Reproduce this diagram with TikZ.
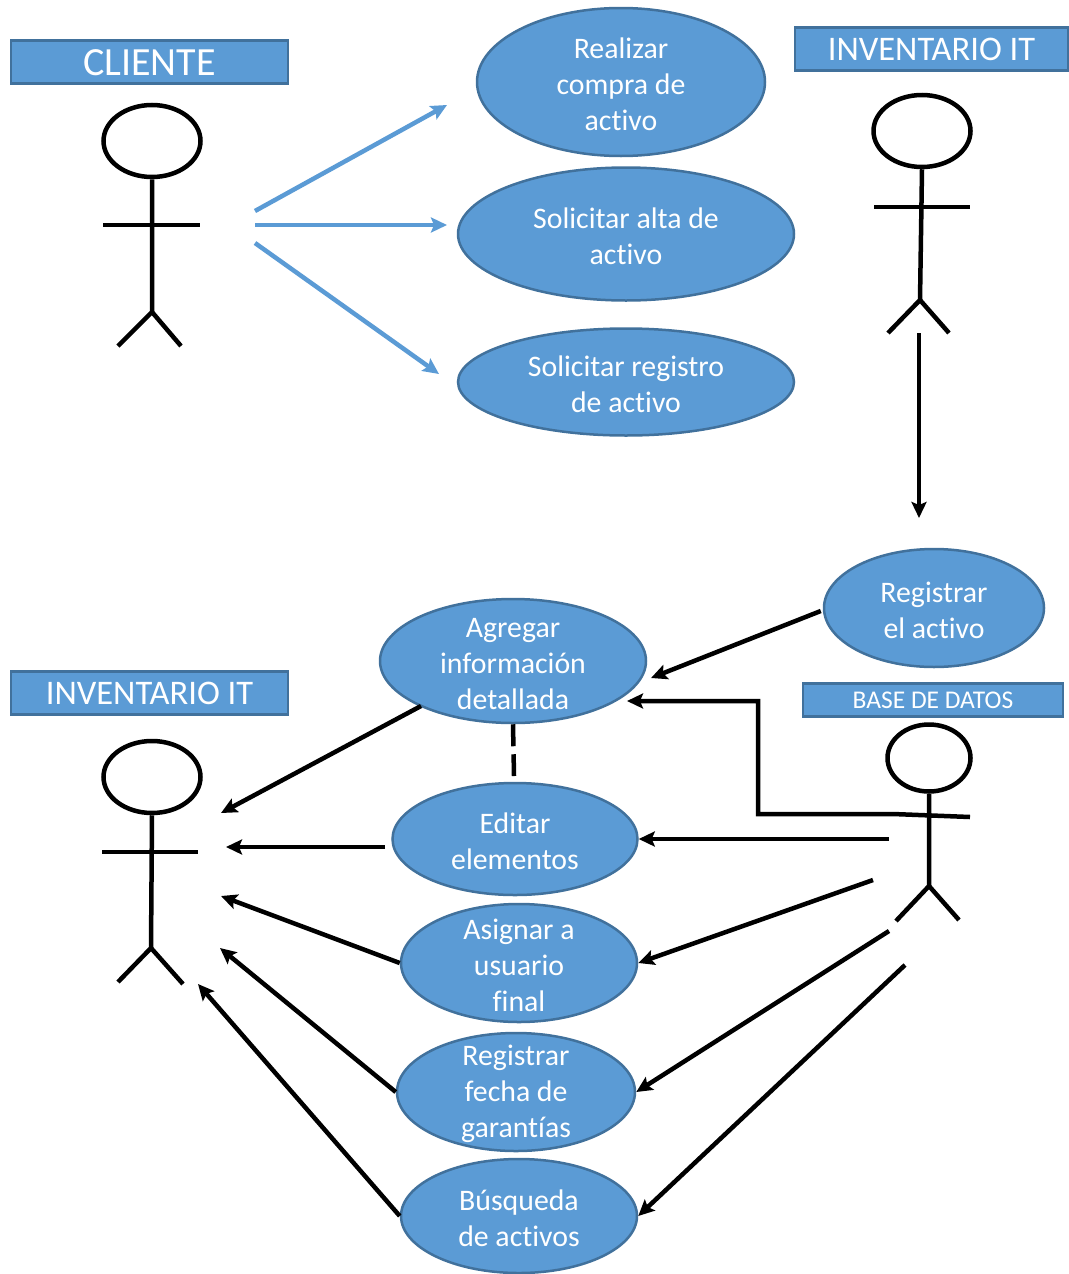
\documentclass[tikz,border=0pt]{standalone}
\usepackage{fontspec}
\setmainfont[Ligatures=NoCommon]{Carlito}
\usetikzlibrary{arrows.meta,shapes.geometric}
\definecolor{azul}{RGB}{91,155,213}
\definecolor{borde}{RGB}{65,113,156}
\newcommand{\bajar}{\\[-11pt]}
\tikzset{
    caso/.style={ellipse, draw=borde, line width=2.5pt, fill=azul, text=white, align=center, inner sep=-20pt, font=\fontsize{29.8}{36}\selectfont},
    titulo/.style={rectangle, draw=borde, line width=2.5pt, fill=azul, text=white, inner sep=0pt},
    cabeza/.style={ellipse, draw=black, line width=4.5pt, fill=white},
    palo/.style={draw=black, line width=4.5pt},
    flecha/.style={draw=black, line width=4.5pt, -{Stealth[length=16pt,width=15pt,inset=3pt]}},
    flechaazul/.style={draw=azul, line width=4.5pt, -{Stealth[length=16pt,width=15pt,inset=3pt]}},
}
\begin{document}
\begin{tikzpicture}[x=1pt,y=-1pt]

    \useasboundingbox (0,0) rectangle (1068,1274);

    % titulos
    \node (cliente) [titulo, minimum width=277pt, minimum height=43pt, text height=27.8pt, font=\fontsize{40}{40}\selectfont] at (149.5,62) {CLIENTE};
    \node (inventarioA) [titulo, minimum width=273pt, minimum height=43pt, text height=24pt, font=\fontsize{34.5}{40}\selectfont] at (931.5,49) {INVENTARIO IT};
    \node (inventarioB) [titulo, minimum width=277pt, minimum height=43pt, text height=24pt, font=\fontsize{34.5}{40}\selectfont] at (149.5,693) {INVENTARIO IT};
    \node (base) [titulo, minimum width=260pt, minimum height=33pt, font=\fontsize{25.5}{30}\selectfont] at (933,700) {BASE DE DATOS};

    % casos de uso
    \node (compra) [caso, minimum width=288pt, minimum height=148pt] at (621,82) {\bajar Realizar\\compra de\\activo};
    \node (alta) [caso, minimum width=336pt, minimum height=133pt] at (626,234) {\bajar Solicitar alta de\\activo};
    \node (registro) [caso, minimum width=336pt, minimum height=107pt] at (626,382) {\bajar Solicitar registro\\de activo};
    \node (registrar) [caso, minimum width=220pt, minimum height=118pt] at (934,608) {\bajar Registrar\\el activo};
    \node (agregar) [caso, minimum width=266pt, minimum height=124pt] at (513,661) {\bajar Agregar\\información\\detallada};
    \node (editar) [caso, minimum width=245pt, minimum height=112pt] at (515,839) {\bajar Editar\\elementos};
    \node (asignar) [caso, minimum width=236pt, minimum height=118pt] at (519,963) {\bajar Asignar a\\usuario\\final};
    \node (fecha) [caso, minimum width=238pt, minimum height=118pt] at (516,1092) {\bajar Registrar\\fecha de\\garantías};
    \node (busqueda) [caso, minimum width=236pt, minimum height=114pt] at (519,1216) {\bajar Búsqueda\\de activos};

    % monigote cliente
    \node (cabezaA) [cabeza, minimum width=97pt, minimum height=72pt] at (152,141) {};
    \draw [palo] (cabezaA.south) -- (152,312) -- (118,346);
    \draw [palo] (152,312) -- (181,346);
    \draw [palo] (103,225) -- (200,225);

    % monigote inventario arriba
    \node (cabezaB) [cabeza, minimum width=97pt, minimum height=72pt] at (922,131) {};
    \draw [palo] (cabezaB.south) -- (920,300) -- (888,333);
    \draw [palo] (920,300) -- (949,333);
    \draw [palo] (874,207) -- (970,207);

    % monigote inventario abajo
    \node (cabezaC) [cabeza, minimum width=97pt, minimum height=72pt] at (152,777) {};
    \draw [palo] (cabezaC.south) -- (151,948) -- (118,982);
    \draw [palo] (151,948) -- (183,984);
    \draw [palo] (102,852) -- (198,852);

    % monigote base de datos
    \node (cabezaD) [cabeza, minimum width=83pt, minimum height=67pt] at (929,758) {};
    \draw [palo] (cabezaD.south) -- (929,886) -- (896,921);
    \draw [palo] (929,886) -- (959,920);

    % flechas cliente
    \coordinate (salidaA) at (255,211);
    \coordinate (salidaB) at (255,225);
    \coordinate (salidaC) at (255,243);
    \draw [flechaazul] (salidaA) -- (447,105);
    \draw [flechaazul] (salidaB) -- (447,225);
    \draw [flechaazul] (salidaC) -- (439,374);

    % flechas inventario
    \coordinate (bajadaA) at (919,333);
    \coordinate (bajadaB) at (919,518);
    \draw [flecha] (bajadaA) -- (bajadaB);
    \draw [flecha] (registrar.west) ++(-2,3) -- (651,678);
    \draw [palo, dash pattern=on 22pt off 8pt] (agregar.south) -- (514,776);

    % hacia el actor
    \draw [flecha] (421,706) -- (221,813);
    \draw [flecha] (385,847) -- (226,847);
    \draw [flecha] (asignar.west) -- (221,896);
    \draw [flecha] (fecha.west) -- (220,948);
    \draw [flecha] (busqueda.west) -- (198,984);

    % desde base de datos
    \draw [flecha] (970,817) -- (893,814) -- (758,814) -- (758,701) -- (627,701);
    \draw [flecha] (889,839) -- (editar.east);
    \draw [flecha] (873,880) -- (asignar.east);
    \draw [flecha] (889,931) -- (fecha.east);
    \draw [flecha] (905,965) -- (busqueda.east);

\end{tikzpicture}
\end{document}
